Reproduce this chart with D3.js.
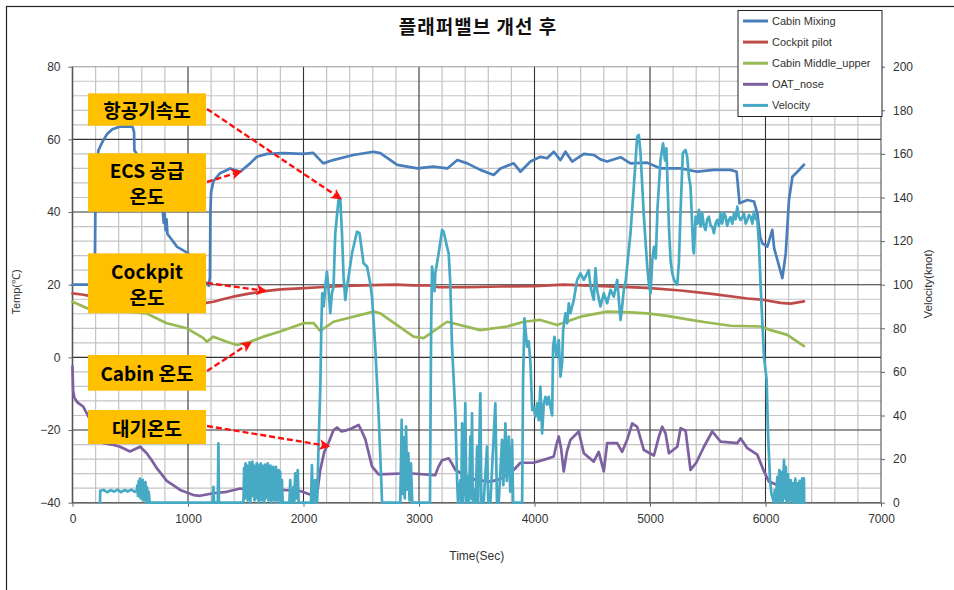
<!DOCTYPE html>
<html><head><meta charset="utf-8">
<script src="https://cdn.jsdelivr.net/npm/d3@7/dist/d3.min.js"></script>
<style>
html,body{margin:0;padding:0;background:#fff;}
svg{display:block;font-family:"Liberation Sans",Arial,sans-serif;}
</style></head><body>
<svg id="chart" width="954" height="590"></svg>
<script>
// ---- data: [time (sec), value] ----
const cabinMixing = [[0,20],[190,20],[195,30],[199,45],[205,52],[225,57],[262,59.5],[300,61.5],[345,62.8],[400,63.4],[450,63.6],[520,63.5],[533,62],[536,57],[556,56],[600,50],[700,44],[780,41],[790,37],[798,39.5],[806,35],[814,38],[822,34],[845,33],[906,30.4],[1000,28.7],[1080,25],[1140,21],[1180,19.7],[1190,22],[1194,40],[1200,45.5],[1220,48.5],[1278,50.7],[1365,52],[1452,51.1],[1538,53.4],[1596,55.2],[1683,56],[1824,56.2],[1998,56],[2084,56.3],[2171,53.4],[2257,54.3],[2431,55.7],[2604,56.6],[2665,56.2],[2812,53],[2985,52],[3124,52.5],[3245,52],[3332,54.3],[3418,53.4],[3531,51.6],[3647,50.2],[3705,52],[3820,53.4],[3878,51.1],[3965,53.9],[4051,55.2],[4109,54.8],[4167,56.6],[4225,54.3],[4268,56.6],[4326,53.9],[4427,56],[4513,55.7],[4571,54.5],[4629,53.9],[4745,55.1],[4831,53.4],[4976,53.6],[5091,52],[5265,52],[5409,51.1],[5553,51.6],[5698,51.6],[5750,51.1],[5765,46],[5775,42.4],[5843,43.3],[5900,42.9],[5929,39.7],[5955,33],[5973,31.4],[6016,30.5],[6059,35.1],[6075,30],[6103,26.8],[6146,21.8],[6175,28.6],[6203,43.3],[6233,49.7],[6276,51.1],[6333,53]];
const cockpitPilot = [[0,17.6],[80,17.3],[170,16.8],[400,16.3],[700,15.8],[950,15.2],[1100,14.9],[1157,15],[1220,15.3],[1300,16],[1390,16.7],[1540,17.6],[1684,18.3],[1800,18.7],[1970,19],[2140,19.3],[2350,19.7],[2600,19.9],[2800,20],[2950,19.8],[3090,19.8],[3170,19.3],[3430,19.3],[3700,19.5],[4000,19.6],[4250,20],[4540,19.7],[4976,19.1],[5265,18.4],[5553,17.4],[5843,16.2],[5987,15.8],[6131,15],[6218,14.8],[6333,15.4]];
const cabinMiddleUpper = [[0,15.3],[128,13.5],[300,12.8],[500,12.5],[640,12.1],[700,11.2],[816,9.4],[990,8],[1134,5.3],[1163,4.3],[1220,5.7],[1336,4.3],[1423,3.4],[1538,4.3],[1653,5.7],[1798,7.1],[2000,9.4],[2087,9.4],[2145,7.3],[2260,9.8],[2607,12.6],[2665,12.1],[2953,5.7],[3040,5.3],[3243,9.8],[3531,7.5],[3763,8.5],[3907,9.8],[4051,10.3],[4196,8.9],[4398,11.2],[4629,12.6],[4831,12.4],[4976,12.1],[5149,11.4],[5351,10.3],[5496,9.6],[5698,8.7],[5958,8.5],[6045,7.5],[6189,6.2],[6333,3.1]];
const oatNose = [[0,-2.5],[5,-9],[15,-11],[40,-12.3],[94,-13.6],[150,-17],[200,-20],[240,-22.5],[267,-23.6],[340,-24],[412,-24.6],[498,-25.9],[585,-24.6],[643,-26.4],[690,-28.5],[730,-30.5],[816,-34],[932,-36.5],[1047,-37.9],[1105,-38.1],[1220,-37.4],[1336,-37],[1452,-36.1],[1538,-36.5],[1827,-36.5],[1971,-36.8],[2087,-38.1],[2120,-37],[2145,-31],[2180,-26],[2217,-23.5],[2260,-20],[2290,-19.3],[2330,-20.4],[2361,-20.2],[2420,-19.5],[2477,-18.6],[2500,-20],[2535,-22.5],[2593,-30],[2650,-32.2],[2910,-31.9],[3141,-32.4],[3170,-30],[3200,-28.3],[3257,-27.8],[3290,-29.5],[3315,-31],[3400,-32.5],[3488,-33.7],[3618,-34.2],[3700,-33.5],[3780,-32],[3820,-31],[3878,-29],[3993,-29],[4100,-28],[4167,-27.3],[4190,-24],[4210,-21.8],[4230,-25],[4253,-31.4],[4280,-26],[4311,-22.7],[4383,-20.4],[4427,-26.4],[4513,-28.7],[4556,-26],[4600,-31.4],[4629,-23.6],[4716,-23.6],[4759,-26],[4802,-22.7],[4846,-18.2],[4889,-19.1],[4947,-25.5],[5034,-27],[5075,-22],[5106,-19.1],[5135,-21],[5164,-26.4],[5236,-24.6],[5265,-19.5],[5308,-20.2],[5351,-31],[5400,-29],[5467,-24.6],[5539,-20.4],[5611,-23.2],[5756,-23.6],[5785,-22.3],[5843,-25],[5929,-26.8],[5987,-31.4],[6030,-34.2],[6103,-35.1],[6200,-35.5]];
const velocity = [[238,0],[240,5.5],[270,5.9],[300,4.8],[330,5.8],[360,5.1],[390,6],[420,4.9],[450,5.8],[480,5.2],[510,6],[540,5],[556,5.5],[562,8],[567,3],[573,10],[578,4],[584,11],[590,2],[596,9],[602,5],[608,10.5],[614,1],[620,8],[626,3],[632,9.5],[638,0],[645,7],[652,0],[660,5],[668,0],
[1212,0],[1220,7.3],[1226,0],[1258,0],[1263,27.2],[1268,0],
[1480,0],[1486,16],[1492,2],[1498,18],[1504,5],[1510,17],[1516,1],[1522,15],[1528,4],[1534,18.5],[1540,0],[1546,16],[1552,3],[1558,18.8],[1564,6],[1570,17],[1576,1],[1582,15.5],[1588,2],[1594,18],[1600,5],[1606,17.5],[1612,0],[1618,16.5],[1624,3],[1630,18],[1636,1],[1642,17],[1648,4],[1654,15],[1660,0],[1666,17.5],[1672,2],[1678,16],[1684,5],[1690,18],[1696,1],[1702,16.5],[1708,3],[1714,17],[1720,0],[1726,15],[1732,4],[1738,16.5],[1744,1],[1750,15.5],[1756,3],[1762,16.5],[1768,0],[1774,14],[1780,2],[1786,15],[1792,1],[1798,14.2],[1804,0],
[1808,0],[1813,10.4],[1820,0],[1878,0],[1885,10.4],[1892,0],[1905,0],[1913,7.3],[1920,0],[1928,13.5],[1936,2],[1950,15],[1958,0],
[2065,0],[2073,17.3],[2082,0],[2094,2.8],[2101,10.4],[2110,0],[2118,0],[2130,25.7],[2145,51.7],[2155,82],[2162,96],[2175,90],[2190,100],[2203,106],[2217,97.6],[2232,87],[2246,96],[2260,99],[2275,123.6],[2303,138.9],[2318,139.6],[2333,123.6],[2347,103.7],[2362,93],[2376,99],[2390,103.7],[2420,114.4],[2463,124.3],[2485,123.6],[2520,109.8],[2550,108.3],[2578,100.6],[2593,94.5],[2621,71.6],[2650,41],[2673,10.4],[2680,0],
[2838,0],[2850,38],[2858,4],[2868,30],[2877,2],[2888,35],[2898,6],[2908,22.7],[2918,1],[2930,18],[2942,0],
[3095,0],[3105,80],[3113,108.3],[3135,97],[3141,105.2],[3170,114.4],[3200,125.1],[3213,124.3],[3243,117.4],[3257,114.4],[3271,100.6],[3286,71.6],[3315,41],[3330,10.4],[3338,0],
[3358,10.4],[3366,0],[3373,36.4],[3380,0],[3387,5],[3401,45.6],[3410,0],[3425,12],[3432,0],[3445,30.3],[3452,2],[3459,41],[3466,0],[3474,6],[3490,0],[3503,25.7],[3512,0],[3531,50.2],[3540,0],[3560,0],[3589,25.7],[3600,0],[3618,0],[3661,45.6],[3675,0],[3690,0],[3719,28.8],[3730,8],[3748,36.4],[3760,10],[3777,30.3],[3790,5],[3806,28.8],[3815,0],[3893,0],
[3901,56.3],[3913,84.6],[3936,71.6],[3950,74],[3965,64],[3980,42.5],[3993,44],[4008,39.4],[4023,45.6],[4037,37.9],[4051,53.2],[4066,31.8],[4080,45],[4095,48.6],[4110,45],[4123,48.6],[4138,44],[4153,40],[4161,71.6],[4173,76.1],[4190,67],[4210,74.6],[4225,57.8],[4239,64],[4248,79.2],[4268,86.9],[4283,82.3],[4297,91.5],[4311,86.9],[4340,93],[4369,102.2],[4398,105.2],[4427,102.2],[4456,105.2],[4470,106.7],[4485,99],[4513,93],[4528,107.5],[4542,97.6],[4571,90],[4600,96],[4629,91.5],[4658,97.6],[4687,94.5],[4716,102.2],[4745,83.8],[4759,90],[4773,97.6],[4790,102],[4802,108.3],[4831,123.6],[4860,145],[4889,167.9],[4903,168.7],[4918,160.3],[4947,131.2],[4976,108.3],[4990,100.6],[5005,96],[5020,111.3],[5034,117.4],[5050,112],[5065,135],[5091,157.2],[5113,164.8],[5130,157],[5142,162.6],[5164,126.6],[5178,111.3],[5193,105.2],[5210,102],[5236,100],[5250,110],[5265,134.3],[5284,160.3],[5308,161.8],[5322,158.7],[5337,149.5],[5351,145],[5366,126.6],[5374,115.9],[5380,114.4],[5395,131.2],[5410,128],[5424,134.3],[5438,126.6],[5452,132.7],[5466,127],[5481,125.1],[5495,130],[5510,131.2],[5525,127],[5539,126.6],[5553,123.6],[5568,128],[5582,129.7],[5597,127],[5611,132.7],[5625,128],[5640,133],[5654,131.2],[5668,127],[5683,129.7],[5697,131],[5712,128],[5727,132.7],[5741,130],[5756,135.8],[5770,131],[5785,129.7],[5800,131],[5814,132.7],[5828,128],[5843,129.7],[5857,132],[5871,131.2],[5886,128],[5900,133.5],[5915,130],[5929,129.7],[5943,119],[5958,99],[5987,67],[6010,56.3],[6021,33.3],[6039,10.4],[6051,4.3],[6073,0],
[6080,5.8],[6088,0],[6103,11.9],[6110,0],[6120,15],[6128,1],[6140,14],[6148,0],[6160,19.6],[6168,2],[6176,16.5],[6183,0],[6195,13],[6202,0],[6218,10.4],[6225,1],[6238,9],[6245,0],[6258,11],[6265,0],[6276,8.9],[6285,0],[6295,10],[6305,0],[6318,11.2],[6325,0],[6333,11.2],[6335,0]];

const seriesNames = ["Cabin Mixing","Cockpit pilot","Cabin Middle_upper","OAT_nose","Velocity"];
const timeTicks = [0,1000,2000,3000,4000,5000,6000,7000];
const tempTicks = [-40,-20,0,20,40,60,80];
const velTicks = [0,20,40,60,80,100,120,140,160,180,200];
const titleText = "플래퍼밸브 개선 후";
const xTitle = "Time(Sec)", yTitle = "Temp(℃)", y2Title = "Velocity(knot)";
// callouts: label lines, and the point each arrow reaches [time, value, axis]
const calloutLines = [["항공기속도"],["ECS 공급","온도"],["Cockpit","온도"],["Cabin 온도"],["대기온도"]];
const calloutTargets = [[2318,139.6,"vel"],[1452,51.1,"temp"],[1668,18.3,"temp"],[1538,4.0,"temp"],[2214,-24.4,"temp"]];

// ---- layout ----
const colors = ["#4a7ebb","#be4b48","#98b954","#7d60a0","#46aac5"];
const svg = d3.select("#chart");
const plotL = 72.5, plotR = 881, plotT = 66.7, plotB = 502.7;
const x = d3.scaleLinear().domain([0,7000]).range([plotL,plotR]);
const yT = d3.scaleLinear().domain([-40,80]).range([plotB,plotT]);
const yV = d3.scaleLinear().domain([0,200]).range([plotB,plotT]);

// outer chart frame
svg.append("rect").attr("x",6.5).attr("y",6.5).attr("width",1000).attr("height",1000)
  .attr("fill","#fff").attr("stroke","#222").attr("stroke-width",1.2);

// grid
const g = svg.append("g");
d3.range(0,7001,200).filter(v=>v%1000!==0).forEach(v=>{
  g.append("line").attr("x1",x(v)).attr("x2",x(v)).attr("y1",plotT).attr("y2",plotB)
    .attr("stroke","#c4c4c4").attr("stroke-width",1.2);
});
d3.range(-40,81,4).filter(v=>v%20!==0).forEach(v=>{
  g.append("line").attr("x1",plotL).attr("x2",plotR).attr("y1",yT(v)).attr("y2",yT(v))
    .attr("stroke","#c4c4c4").attr("stroke-width",1.2);
});
timeTicks.forEach(v=>{
  g.append("line").attr("x1",x(v)).attr("x2",x(v)).attr("y1",plotT).attr("y2",plotB)
    .attr("stroke", v===0||v===7000 ? "#555" : "#333").attr("stroke-width",1.1);
});
tempTicks.forEach(v=>{
  g.append("line").attr("x1",plotL).attr("x2",plotR).attr("y1",yT(v)).attr("y2",yT(v))
    .attr("stroke", v===80 ? "#999" : "#333").attr("stroke-width",1.1);
});
g.append("line").attr("x1",plotL).attr("x2",plotR).attr("y1",plotB).attr("y2",plotB).attr("stroke","#666").attr("stroke-width",1.5);
g.append("line").attr("x1",plotL).attr("x2",plotL).attr("y1",plotT).attr("y2",plotB).attr("stroke","#555").attr("stroke-width",1.5);

// axes
const axStyle = sel => {
  sel.select(".domain").remove();
  sel.selectAll(".tick line").attr("stroke","#666");
  sel.selectAll(".tick text").attr("fill","#333").style("font-size","12px").style("font-family","'Liberation Sans',Arial,sans-serif");
};
svg.append("g").attr("transform",`translate(0,${plotB})`)
  .call(d3.axisBottom(x).tickValues(timeTicks).tickSize(4).tickPadding(8).tickFormat(d3.format("d")))
  .call(axStyle);
svg.append("g").attr("transform",`translate(${plotL},0)`)
  .call(d3.axisLeft(yT).tickValues(tempTicks).tickSize(4).tickPadding(8))
  .call(axStyle);
svg.append("g").attr("transform",`translate(${plotR},0)`)
  .call(d3.axisRight(yV).tickValues(velTicks).tickSize(4).tickPadding(8))
  .call(axStyle);

// axis titles
svg.append("text").attr("x",(plotL+plotR)/2).attr("y",556).attr("text-anchor","middle")
  .attr("dominant-baseline","central").attr("fill","#333").style("font-size","12px").text(xTitle);
svg.append("text").attr("transform","translate(16,292) rotate(-90)").attr("text-anchor","middle")
  .attr("dominant-baseline","central").attr("fill","#333").style("font-size","11px").text(yTitle);
svg.append("text").attr("transform","translate(928,284) rotate(-90)").attr("text-anchor","middle")
  .attr("dominant-baseline","central").attr("fill","#333").style("font-size","11.5px").text(y2Title);

// title
svg.append("text").attr("x",478).attr("y",25).attr("text-anchor","middle").attr("dominant-baseline","central")
  .style("font-family","'Noto Sans CJK KR',sans-serif").style("font-weight","bold").style("font-size","19px")
  .style("letter-spacing","1px").attr("fill","#111").text(titleText);

// series
const lineT = d3.line().x(d=>x(d[0])).y(d=>yT(d[1]));
const lineV = d3.line().x(d=>x(d[0])).y(d=>yV(d[1]));
const tempSeries = [cabinMixing, cockpitPilot, cabinMiddleUpper, oatNose];
const lines = svg.append("g").attr("fill","none").attr("stroke-linejoin","round").attr("stroke-linecap","round");
tempSeries.forEach((s,i)=>{
  lines.append("path").attr("d",lineT(s)).attr("stroke",colors[i]).attr("stroke-width",2.7);
});
lines.append("path").attr("d",lineV(velocity)).attr("stroke",colors[4]).attr("stroke-width",2.7);

// legend
const lg = svg.append("g");
lg.append("rect").attr("x",738).attr("y",10.5).attr("width",144).attr("height",106)
  .attr("fill","#fff").attr("stroke","#222").attr("stroke-width",1);
seriesNames.forEach((n,i)=>{
  const yy = 21 + i*21.1;
  lg.append("line").attr("x1",743).attr("x2",768).attr("y1",yy).attr("y2",yy)
    .attr("stroke",colors[i]).attr("stroke-width",3);
  lg.append("text").attr("x",772).attr("y",yy).attr("dominant-baseline","central")
    .attr("fill","#333").style("font-size","11px").text(n);
});

// callouts
const defs = svg.append("defs");
defs.append("marker").attr("id","ah").attr("viewBox","0 0 10 10").attr("refX",8).attr("refY",5)
  .attr("markerWidth",5.2).attr("markerHeight",4.6).attr("markerUnits","strokeWidth").attr("orient","auto")
  .append("path").attr("d","M0,0 L10,5 L0,10 L2.5,5 z").attr("fill","#ff1010");
const boxes = [[93.3,32.4],[153.3,58.4],[253.3,60],[355,35.7],[410,34]];
const starts = [109,182,283,371,426];
const cg = svg.append("g");
calloutLines.forEach((lns,i)=>{
  const [by,bh] = boxes[i];
  cg.append("rect").attr("x",88).attr("y",by).attr("width",118).attr("height",bh).attr("fill","#ffc000");
  const lh = 26;
  lns.forEach((t,j)=>{
    cg.append("text").attr("x",147).attr("y",by + bh/2 + (j - (lns.length-1)/2)*lh)
      .attr("text-anchor","middle").attr("dominant-baseline","central")
      .style("font-family","'Noto Sans CJK KR',sans-serif").style("font-weight","bold").style("font-size","19px")
      .attr("fill","#000").text(t);
  });
  const tg = calloutTargets[i];
  const tx = x(tg[0]), ty = tg[2]==="vel" ? yV(tg[1]) : yT(tg[1]);
  cg.append("line").attr("x1",207).attr("y1",starts[i]).attr("x2",tx).attr("y2",ty)
    .attr("stroke","#ff1010").attr("stroke-width",2.4).attr("stroke-dasharray","6,3")
    .attr("marker-end","url(#ah)");
});
</script></body></html>
